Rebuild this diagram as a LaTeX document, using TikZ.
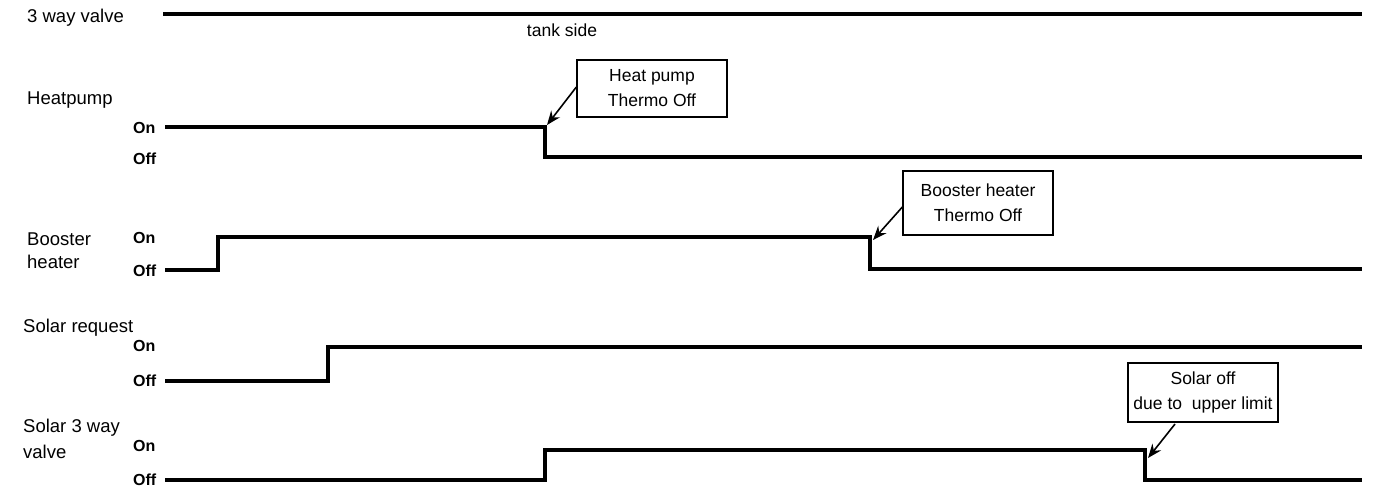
\documentclass[tikz,border=0pt]{standalone}
\usepackage{fontspec}
\setmainfont{Liberation Sans}
\usetikzlibrary{arrows.meta}
\begin{document}
\begin{tikzpicture}[x=1pt,y=-1pt,
  lbl/.style={anchor=west,inner sep=0pt,font=\fontsize{18.5}{23}\selectfont,align=left},
  lvl/.style={anchor=west,inner sep=0pt,font=\fontsize{16}{18}\selectfont\bfseries},
  sig/.style={line width=3.2pt,line join=miter},
  callout/.style={draw,line width=1.3pt,minimum width=150pt,inner sep=0pt,align=center,font=\fontsize{17.5}{25}\selectfont},
  pointer/.style={line width=1.6pt,-{Stealth[length=14pt,width=11pt]}}]
\useasboundingbox (0,0) rectangle (1399,499);

% labels
\node[lbl] (l1) at (27,18) {3 way valve};
\node[lbl] (l2) at (27,100) {Heatpump};
\node[lbl] (l3) at (27,251) {Booster\\heater};
\node[lbl] (l4) at (23,328) {Solar request};
\node[lbl,font=\fontsize{18.5}{26}\selectfont] (l5) at (23,439) {Solar 3 way\\valve};

\node[inner sep=0pt,font=\fontsize{17.5}{20}\selectfont] (ts) at (562,30) {tank side};

\node[lvl] (on2) at (133,128) {On};
\node[lvl] (off2) at (133,159) {Off};
\node[lvl] (on3) at (133,238) {On};
\node[lvl] (off3) at (133,271) {Off};
\node[lvl] (on4) at (133,346) {On};
\node[lvl] (off4) at (133,381) {Off};
\node[lvl] (on5) at (133,446) {On};
\node[lvl] (off5) at (133,480) {Off};

% signals
\draw[sig] (163,14) -- (1362,14);
\coordinate (hp) at (545,127);
\draw[sig] (165,127) -- (hp) -- (545,157) -- (1362,157);
\coordinate (bh) at (870,237);
\draw[sig] (165,270) -- (218,270) -- (218,237) -- (bh) -- (870,269) -- (1362,269);
\draw[sig] (165,381) -- (328,381) -- (328,347) -- (1362,347);
\coordinate (sv) at (1145,450);
\draw[sig] (165,480) -- (545,480) -- (545,450) -- (sv) -- (1145,480) -- (1362,480);

% callouts
\node[callout,minimum height=57pt] (c1) at (652,88.5) {Heat pump\\Thermo Off};
\node[callout,minimum height=64pt] (c2) at (978,203) {Booster heater\\Thermo Off};
\node[callout,minimum height=59pt] (c3) at (1203,392.5) {Solar off\\due to~~upper limit};

\draw[pointer] (c1.west |- 0,87) -- (547,125);
\draw[pointer] (c2.west |- 0,207) -- (873,240);
\draw[pointer] (1175,424) -- (1148,458);
\end{tikzpicture}
\end{document}
